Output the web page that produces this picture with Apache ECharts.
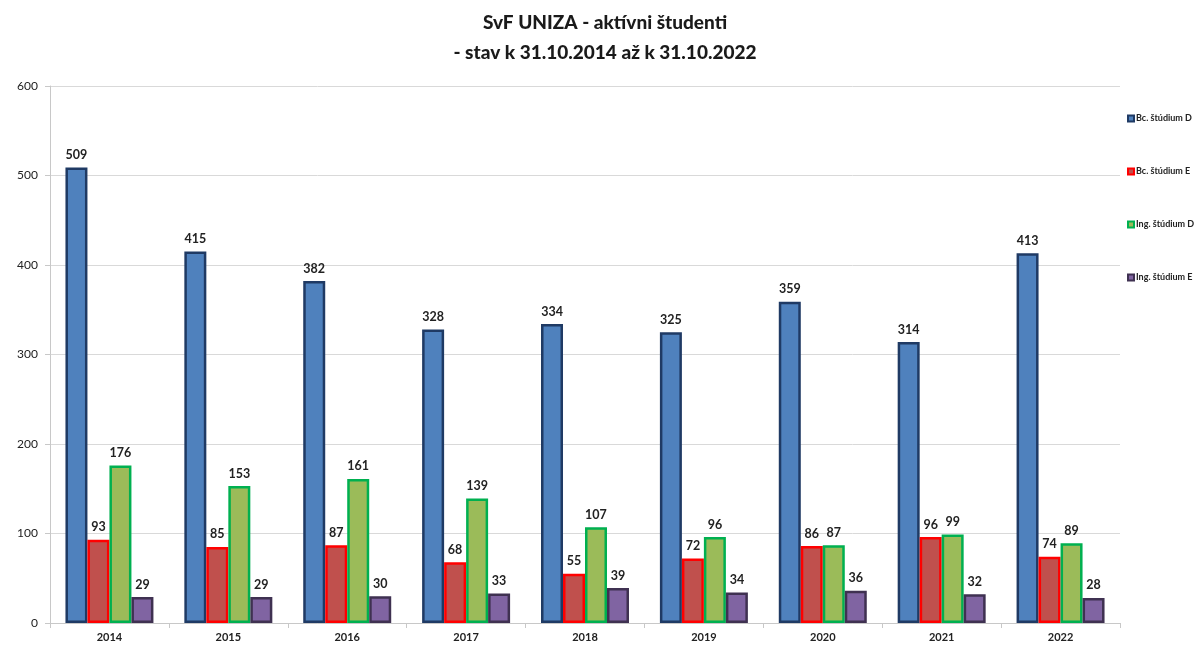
<!DOCTYPE html>
<html>
<head>
<meta charset="utf-8">
<script src="https://cdn.jsdelivr.net/npm/echarts@6/dist/echarts.min.js"></script>
<style>
  html, body { margin: 0; padding: 0; background: #fff; }
  #chart { width: 1203px; height: 652px; }
</style>
</head>
<body>
<div id="chart"></div>
<script>
const years = ['2014', '2015', '2016', '2017', '2018', '2019', '2020', '2021', '2022']
const bcDenne = [509, 415, 382, 328, 334, 325, 359, 314, 413]
const bcExterne = [93, 85, 87, 68, 55, 72, 86, 96, 74]
const ingDenne = [176, 153, 161, 139, 107, 96, 87, 99, 89]
const ingExterne = [29, 29, 30, 33, 39, 34, 36, 32, 28]
const seriesNames = ['Bc. štúdium D', 'Bc. štúdium E', 'Ing. štúdium D', 'Ing. štúdium E']

const font = 'Lato, "Open Sans", sans-serif'

function makeSeries (name, data, fill, border) {
  return {
    name,
    type: 'bar',
    data,
    barGap: '0%',
    barCategoryGap: '26%',
    itemStyle: {
      color: fill,
      borderColor: border,
      borderWidth: 2.5
    },
    label: {
      show: true,
      position: 'top',
      distance: 6,
      color: '#222',
      fontFamily: font,
      fontWeight: 'bold',
      fontSize: 12.5
    }
  }
}

const myChart = echarts.init(document.getElementById('chart'))
const option = {
  animation: false,
  title: {
    text: 'SvF UNIZA - aktívni študenti\n- stav k 31.10.2014 až k 31.10.2022',
    left: 600,
    top: 3,
    textAlign: 'center',
    textStyle: {
      fontFamily: font,
      fontWeight: 900,
      fontSize: 19,
      lineHeight: 30,
      color: '#1a1a1a'
    }
  },
  legend: {
    orient: 'vertical',
    left: 1122,
    top: 109,
    itemGap: 44,
    itemWidth: 6,
    itemHeight: 6,
    icon: 'rect',
    data: seriesNames,
    textStyle: {
      fontFamily: font,
      fontSize: 9,
      fontWeight: 'bold',
      color: '#222',
      padding: [0, 0, 0, -3]
    }
  },
  grid: {
    left: 50,
    right: 83,
    top: 86,
    bottom: 29
  },
  xAxis: {
    type: 'category',
    data: years,
    axisLine: { lineStyle: { color: '#c8c8c8' } },
    axisTick: { show: true, lineStyle: { color: '#c8c8c8' } },
    axisLabel: {
      fontFamily: font,
      fontSize: 11,
      fontWeight: 'bold',
      color: '#222',
      margin: 9
    }
  },
  yAxis: {
    type: 'value',
    min: 0,
    max: 600,
    interval: 100,
    axisLine: { show: true, lineStyle: { color: '#c8c8c8' } },
    axisTick: { show: true, lineStyle: { color: '#c8c8c8' } },
    splitLine: { lineStyle: { color: '#d9d9d9' } },
    axisLabel: {
      fontFamily: font,
      fontSize: 12,
      color: '#222',
      margin: 12
    }
  },
  series: [
    makeSeries(seriesNames[0], bcDenne, '#4F81BD', '#1F3A64'),
    makeSeries(seriesNames[1], bcExterne, '#C0504D', '#FF0000'),
    makeSeries(seriesNames[2], ingDenne, '#9BBB59', '#00B050'),
    makeSeries(seriesNames[3], ingExterne, '#8064A2', '#3F3151')
  ]
}
myChart.setOption(option)
</script>
</body>
</html>
